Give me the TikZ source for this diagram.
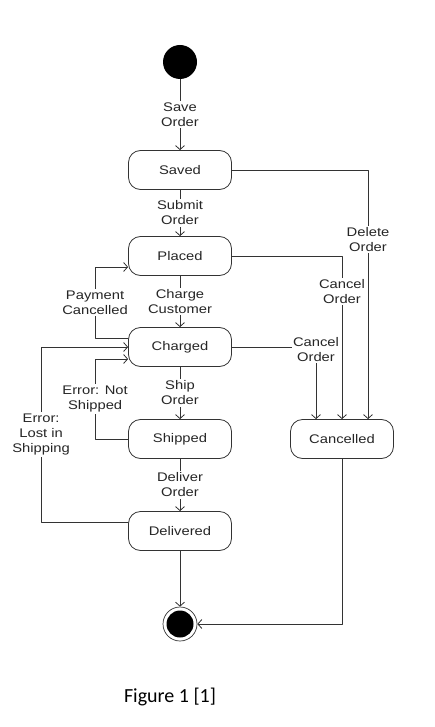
\documentclass[tikz,border=0pt]{standalone}
\usepackage{fontspec}
\setmainfont[FakeStretch=1.18]{Liberation Sans}
\newfontfamily\didascalia{Carlito}
\usetikzlibrary{arrows.meta, calc, positioning}

\begin{document}
\begin{tikzpicture}[
    x=1pt, y=-1pt,
    line cap=round,
    line join=round,
    stato/.style       = {draw=black!80, line width=0.8pt, rounded corners=12pt,
                          minimum width=103pt, minimum height=39pt, inner sep=0pt,
                          font=\fontsize{12.5}{15}\selectfont, text=black!85},
    inizio/.style      = {circle, fill=black, minimum size=34pt, inner sep=0pt},
    fine/.style        = {circle, draw=black!80, line width=0.7pt, minimum size=34pt,
                          inner sep=0pt, path picture={\fill[black]
                          (path picture bounding box.center) circle (13.5pt);}},
    transizione/.style = {draw=black!80, line width=0.8pt,
                          -{Straight Barb[length=4pt,width=9pt]}},
    etichetta/.style   = {fill=white, inner sep=1.5pt, align=center,
                          font=\fontsize{12.5}{15}\selectfont, text=black!85}
]
\useasboundingbox (0,0) rectangle (435,727);

% ---- stati ----
\node[inizio] (inizio) at (180,62) {};
\node[stato] (saved)     at (180,170) {Saved};
\node[stato] (placed)    at (180,256) {Placed};
\node[stato] (charged)   at (180,347) {Charged};
\node[stato] (shipped)   at (180,439) {Shipped};
\node[stato] (delivered) at (180,531) {Delivered};
\node[stato] (cancelled) at (342,439) {Cancelled};
\node[fine] (fine) at (180,624) {};

% ---- flusso principale ----
\draw[transizione] (inizio) -- node[etichetta] {Save\\Order} (saved);
\draw[transizione] (saved) -- node[etichetta] {Submit\\Order} (placed);
\draw[transizione] (placed) -- node[etichetta] {Charge\\Customer} (charged);
\draw[transizione] (charged) -- node[etichetta] {Ship\\Order} (shipped);
\draw[transizione] (shipped) -- node[etichetta] {Deliver\\Order} (delivered);
\draw[transizione] (delivered) -- (fine);

% ---- annullamenti ----
\draw[transizione] (saved.east) -| node[etichetta,pos=0.64] {Delete\\Order}
    ($(cancelled.north)+(26,0)$);
\draw[transizione] (placed.east) -| node[etichetta,pos=0.61] {Cancel\\Order}
    (cancelled.north);
\draw[transizione] (charged.east) -| node[etichetta,pos=0.52] {Cancel\\Order}
    ($(cancelled.north)+(-26,0)$);
\draw[transizione] (cancelled.south) |- (fine.east);

% ---- ritorni per errore ----
\draw[transizione] ($(charged.west)+(0,-9)$) -- ++(-33,0)
    |- node[etichetta,pos=0.25] {Payment\\Cancelled} ($(placed.west)+(0,11)$);
\draw[transizione] (shipped.west) -- ++(-33,0)
    |- node[etichetta,pos=0.25] {Error: Not\\Shipped} ($(charged.west)+(0,12)$);
\draw[transizione] ($(delivered.west)+(0,-9)$) -- ++(-87,0)
    |- node[etichetta,pos=0.25] {Error:\\Lost in\\Shipping} (charged.west);

% ---- didascalia ----
\node[font=\didascalia\fontsize{20}{24}\selectfont] (didascalia) at (170,697) {Figure 1 [1]};

\end{tikzpicture}
\end{document}
